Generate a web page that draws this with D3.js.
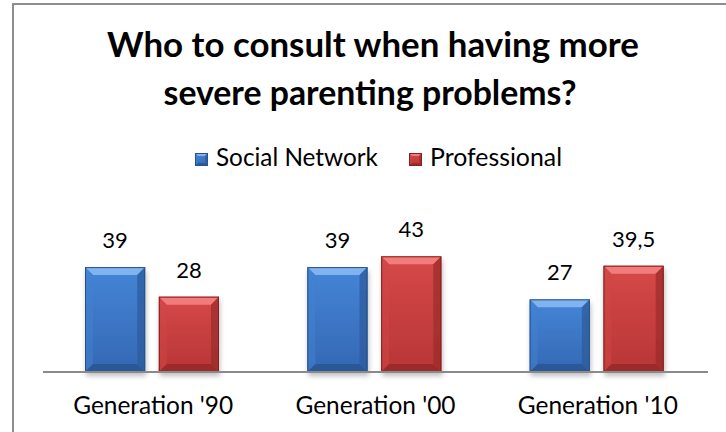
<!DOCTYPE html>
<html>
<head>
<meta charset="utf-8">
<script src="https://cdn.jsdelivr.net/npm/d3@7"></script>
<style>
  body { margin: 0; background: #fff; }
  svg { display: block; font-family: Lato, "Open Sans", sans-serif; }
</style>
</head>
<body>
<div id="chart"></div>
<script>
// data
var categories = ["Generation '90", "Generation '00", "Generation '10"];
var seriesNames = ["Social Network", "Professional"];
var socialNetwork = [39, 39, 27];
var professional = [28, 43, 39.5];
var titleLines = ["Who to consult when having more", "severe parenting problems?"];

var W = 726, H = 432;
var baseY = 372;

var palette = {
    "Social Network": {body0: "#4585d6", body1: "#3468b4", top: "#80b4f0", left: "#4282d2", right: "#2d5c9c", bottom: "#2a5590", line: "#2a5088"},
    "Professional":   {body0: "#d64848", body1: "#b83636", top: "#f27c7c", left: "#d04545", right: "#9c2c2c", bottom: "#962828", line: "#84201f"}
};

var rows = categories.map(function(c, i) {
    return {cat: c, values: [
        {name: seriesNames[0], v: socialNetwork[i]},
        {name: seriesNames[1], v: professional[i]}
    ]};
});

var fmt = d3.formatLocale({decimal: ",", thousands: ".", grouping: [3], currency: ["", ""]}).format("~");

var svg = d3.select("#chart").append("svg")
    .attr("width", W)
    .attr("height", H);

var defs = svg.append("defs");
seriesNames.forEach(function(s, i) {
    var g = defs.append("linearGradient")
        .attr("id", "grad" + i)
        .attr("x1", 0).attr("y1", 0).attr("x2", 0).attr("y2", 1);
    g.append("stop").attr("offset", "0%").attr("stop-color", palette[s].body0);
    g.append("stop").attr("offset", "100%").attr("stop-color", palette[s].body1);
});
var shadow = defs.append("filter").attr("id", "shadow")
    .attr("x", "-20%").attr("y", "-10%").attr("width", "140%").attr("height", "130%");
shadow.append("feDropShadow")
    .attr("dx", 1).attr("dy", 4).attr("stdDeviation", 2.5)
    .attr("flood-color", "#000").attr("flood-opacity", 0.25);

// chart border (right/bottom edges run off the picture)
svg.append("rect")
    .attr("x", 13).attr("y", 4)
    .attr("width", 900).attr("height", 600)
    .attr("fill", "none")
    .attr("stroke", "#8e8e8e")
    .attr("stroke-width", 2);

// scales
var x = d3.scaleBand().domain(categories).range([42, 709]);
var xs = d3.scaleBand().domain(seriesNames).range([43, 177]).paddingInner(0.185);
var y = d3.scaleLinear().domain([0, 45]).range([baseY, baseY - 45 * 2.69]);

function fitWidth(sel, target) {
    var size = +sel.attr("font-size");
    var w = sel.node().getComputedTextLength();
    sel.attr("font-size", (size * target / w).toFixed(2));
    return size * target / w;
}

// title
var t1 = svg.append("text")
    .attr("x", 373).attr("y", 57)
    .attr("text-anchor", "middle")
    .attr("font-weight", "bold")
    .attr("font-size", 30)
    .attr("fill", "#000")
    .text(titleLines[0]);
fitWidth(t1, 532);
var t2 = svg.append("text")
    .attr("x", 370).attr("y", 105)
    .attr("text-anchor", "middle")
    .attr("font-weight", "bold")
    .attr("font-size", 30)
    .attr("fill", "#000")
    .text(titleLines[1]);
fitWidth(t2, 413);

// bevelled box
function bevel(g, bx, by, bw, bh, c, b, gradId) {
    g.append("rect")
        .attr("x", bx).attr("y", by).attr("width", bw).attr("height", bh)
        .attr("fill", "url(#" + gradId + ")");
    var faces = [
        {p: [[bx, by], [bx + bw, by], [bx + bw - b, by + b], [bx + b, by + b]], f: c.top},
        {p: [[bx, by], [bx + b, by + b], [bx + b, by + bh - b], [bx, by + bh]], f: c.left, o: 0.5},
        {p: [[bx + bw, by], [bx + bw, by + bh], [bx + bw - b, by + bh - b], [bx + bw - b, by + b]], f: c.right, o: 0.75},
        {p: [[bx, by + bh], [bx + b, by + bh - b], [bx + bw - b, by + bh - b], [bx + bw, by + bh]], f: c.bottom, o: 0.8}
    ];
    faces.forEach(function(fc) {
        g.append("polygon")
            .attr("points", fc.p.map(function(q) { return q.join(","); }).join(" "))
            .attr("fill", fc.f)
            .attr("fill-opacity", fc.o || 1);
    });
    g.append("rect")
        .attr("x", bx + 0.5).attr("y", by + 0.5).attr("width", bw - 1).attr("height", bh - 1)
        .attr("fill", "none")
        .attr("stroke", c.line)
        .attr("stroke-width", 1);
}

// legend
var legendX = {"Social Network": 195, "Professional": 409};
var legendW = {"Social Network": 162, "Professional": 132};
seriesNames.forEach(function(s, i) {
    var lg = svg.append("g");
    bevel(lg, legendX[s], 153, 13, 13, palette[s], 3, "grad" + i);
    var lt = lg.append("text")
        .attr("x", legendX[s] + 21).attr("y", 166)
        .attr("font-size", 22)
        .attr("fill", "#000")
        .text(s);
    fitWidth(lt, legendW[s]);
});

// bars
var groups = svg.selectAll("g.cat")
    .data(rows)
    .join("g")
    .attr("class", "cat")
    .attr("transform", function(d) { return "translate(" + x(d.cat) + ",0)"; });

groups.each(function(d) {
    var g = d3.select(this);
    d.values.forEach(function(v, i) {
        var bg = g.append("g").attr("filter", "url(#shadow)");
        bevel(bg, xs(v.name), y(v.v), xs.bandwidth(), y(0) - y(v.v), palette[v.name], 8, "grad" + i);
        g.append("text")
            .attr("x", xs(v.name) + xs.bandwidth() / 2)
            .attr("y", y(v.v) - 19)
            .attr("text-anchor", "middle")
            .attr("font-size", 22)
            .attr("fill", "#000")
            .text(fmt(v.v));
    });
});

// category axis
var xAxis = d3.axisBottom(x).tickSize(0).tickPadding(0);
var axisG = svg.append("g")
    .attr("transform", "translate(0," + baseY + ")")
    .call(xAxis);
axisG.select(".domain")
    .attr("d", "M" + (x.range()[0] + 1) + ",0H" + (x.range()[1] - 1))
    .attr("stroke", "#8a8a8a")
    .attr("stroke-width", 2);
axisG.selectAll(".tick text")
    .attr("y", 42)
    .attr("dy", 0)
    .attr("font-family", "Lato, 'Open Sans', sans-serif")
    .attr("fill", "#000")
    .attr("font-size", 22);
var catSize = fitWidth(axisG.select(".tick text"), 160);
axisG.selectAll(".tick text").attr("font-size", catSize.toFixed(2));
</script>
</body>
</html>
